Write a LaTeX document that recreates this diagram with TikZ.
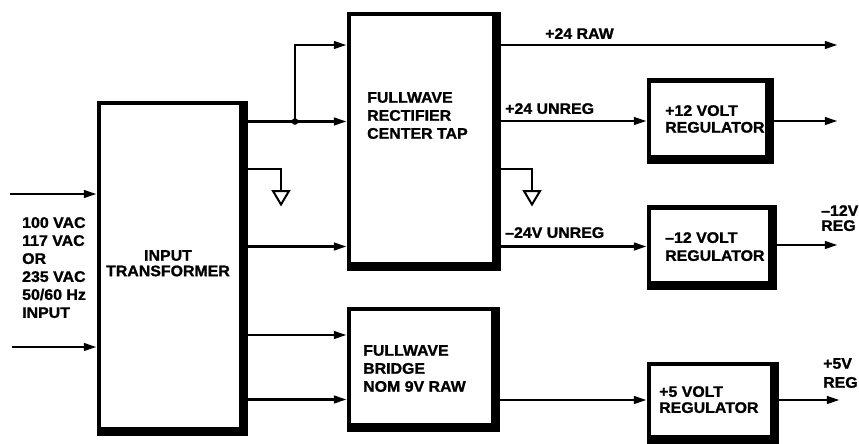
\documentclass[tikz,border=0pt]{standalone}
\usepackage{fontspec}
\setmainfont{Liberation Sans}[FakeStretch=1.04, BoldFeatures={FakeBold=1.3}]
\usetikzlibrary{arrows.meta}
\newcommand\drawblock[5]{%
  \node[blk, minimum width={#4-2.25-#2}, minimum height={#5-2.25-#3}] (#1) at (#2,#3) {};
  \draw[line width=9pt, line join=miter]
    ([shift={(2.25pt,2.25pt)}]#1.north east) --
    ([shift={(2.25pt,-2.25pt)}]#1.south east) --
    ([shift={(-2.25pt,-2.25pt)}]#1.south west);}
\newcommand\groundat[1]{%
  \draw[line width=2pt, line join=miter] (#1) ++(-8,0) -- ++(16,0) -- ++(-8,13.5) -- cycle;}
\begin{document}
\begin{tikzpicture}[x=1pt,y=-1pt,
  blk/.style={draw, line width=4.5pt, inner sep=0pt, outer sep=0pt, anchor=north west},
  lbl/.style={inner sep=0pt, anchor=north west, align=left},
  fnt/.style={font=\fontsize{15.3}{#1}\selectfont\bfseries},
  fnt/.default=18,
  wire/.style={line width=2.7pt},
  arr/.style={wire, shorten >=2.25pt, -{Triangle[length=13pt,width=7.5pt]}},
]
\useasboundingbox (0,0) rectangle (859,444);
% blocks
\drawblock{tr}{99}{103}{243}{431}
\drawblock{rect}{349}{14}{496}{266.5}
\drawblock{bridge}{349}{309}{495}{427.5}
\drawblock{rtw}{649}{80.5}{769}{159}
\drawblock{rntw}{649}{207.5}{772}{285}
\drawblock{rfive}{649}{364}{774}{439}
% texts
\node[lbl, fnt] (tin) at (22,217) {100 VAC\\117 VAC\\OR\\235 VAC\\50/60 Hz\\INPUT};
\node[lbl, fnt=15.5, align=center, anchor=north] (ttr) at (168,250) {INPUT\\TRANSFORMER};
\node[lbl, fnt] (trect) at (367,92) {FULLWAVE\\RECTIFIER\\CENTER TAP};
\node[lbl, fnt] (tbr) at (363,345) {FULLWAVE\\BRIDGE\\NOM 9V RAW};
\node[lbl, fnt=16.7] (trtw) at (665,105) {+12 VOLT\\REGULATOR};
\node[lbl, fnt] (trntw) at (665,232) {\char"2013 12 VOLT\\REGULATOR};
\node[lbl, fnt=16] (trfive) at (659,386) {+5 VOLT\\REGULATOR};
\node[lbl, fnt] (lraw) at (545,28) {+24 RAW};
\node[lbl, fnt] (lun) at (505,103) {+24 UNREG};
\node[lbl, fnt] (lnun) at (505,227) {\char"2013 24V UNREG};
\node[lbl, fnt=15] (lntw) at (821,205) {\char"2013 12V\\REG};
\node[lbl, fnt=19] (lfive) at (823,358) {+5V\\REG};
% coordinates
\coordinate (in1) at (10,194);
\coordinate (in2) at (12,347);
\coordinate (j) at (295,121.5);
\coordinate (ytop) at (0,45);
\coordinate (ygnd) at (0,169);
\coordinate (yneg) at (0,246.5);
\coordinate (ybr1) at (0,335);
\coordinate (ybr2) at (0,399.5);
\coordinate (g1) at (281,191);
\coordinate (g2) at (532,191);
\coordinate (o1) at (840,45);
\coordinate (o2) at (840,121);
\coordinate (o3) at (840,245);
\coordinate (o4) at (842,400);
% inputs
\draw[arr] (in1) -- (tr.west |- in1);
\draw[arr] (in2) -- (tr.west |- in2);
% transformer to rectifier
\draw[wire] (tr.east |- j) -- (j);
\draw[arr] (j) -- (rect.west |- j);
\draw[arr] (j) |- (rect.west |- ytop);
\fill (j) circle (3.3);
\draw[wire] (tr.east |- ygnd) -| (g1);
\groundat{g1}
\draw[arr] (tr.east |- yneg) -- (rect.west |- yneg);
% transformer to bridge
\draw[arr] (tr.east |- ybr1) -- (bridge.west |- ybr1);
\draw[arr] (tr.east |- ybr2) -- (bridge.west |- ybr2);
% rectifier outputs
\draw[arr] (rect.east |- o1) -- (o1);
\draw[arr] (rect.east |- o2) -- (rtw.west |- o2);
\draw[arr] (rtw.east |- o2) -- (o2);
\draw[wire] (rect.east |- ygnd) -| (g2);
\groundat{g2}
\draw[arr] (rect.east |- yneg) -- (rntw.west |- yneg);
\draw[arr] (rntw.east |- o3) -- (o3);
% bridge output
\draw[arr] (bridge.east |- o4) -- (rfive.west |- o4);
\draw[arr] (rfive.east |- o4) -- (o4);
\end{tikzpicture}
\end{document}
